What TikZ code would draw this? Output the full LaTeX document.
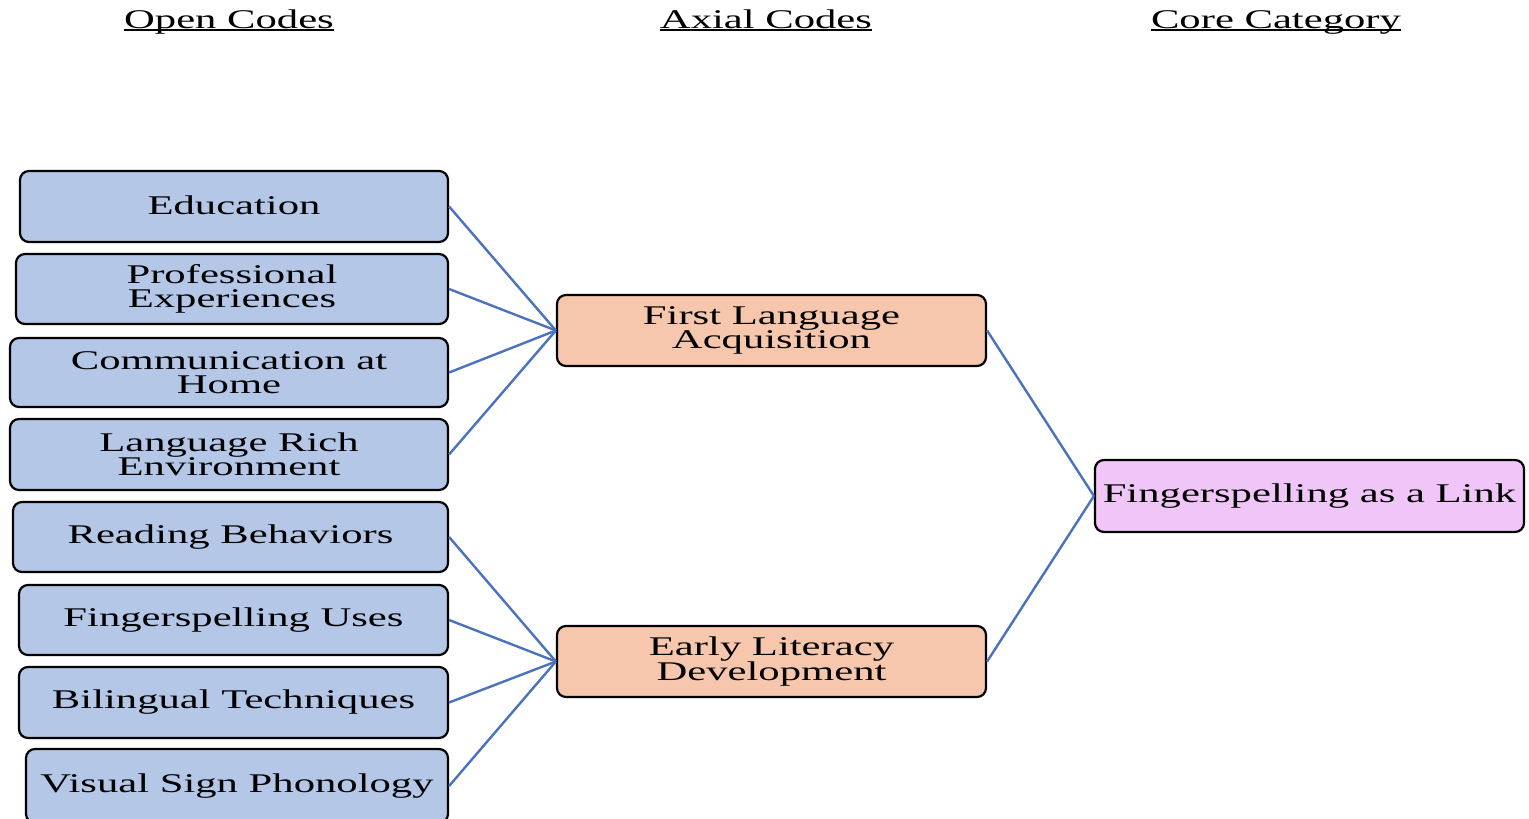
\documentclass[tikz,border=0pt]{standalone}
\usepackage{fontspec}
\setmainfont[FakeStretch=1.58]{Liberation Serif}
\begin{document}
\begin{tikzpicture}[x=1pt,y=-1pt,
  box/.style={draw=black,line width=2.2pt,rounded corners=9pt,align=center,inner sep=0pt,
    font=\fontsize{27}{24}\selectfont},
  openbox/.style={box,fill=openfill},
  axbox/.style={box,fill=axfill},
  corebox/.style={box,fill=corefill},
  heading/.style={inner sep=0pt,anchor=base,font=\fontsize{27}{24}\selectfont},
  link/.style={draw=linkblue,line width=2.4pt}]
\definecolor{openfill}{HTML}{B4C7E7}
\definecolor{axfill}{HTML}{F6C7AC}
\definecolor{corefill}{HTML}{F0C6F8}
\definecolor{linkblue}{HTML}{4A72BE}
\path[use as bounding box] (0,0) rectangle (1529,819);
\clip (0,0) rectangle (1529,819);
% headings
\node[heading] (h1) at (229,28) {Open Codes};
\node[heading] (h2) at (766,28) {Axial Codes};
\node[heading] (h3) at (1276,28) {Core Category};
\foreach \h in {h1,h2,h3}
  \draw[line width=1.5pt] ([yshift=-2pt]\h.base west) -- ([yshift=-2pt]\h.base east);
% open codes
\node[openbox,minimum width=428pt,minimum height=71pt] (o1) at (234,206.5) {\raisebox{3pt}{Education}};
\node[openbox,minimum width=432pt,minimum height=70pt] (o2) at (232,289) {Professional\\Experiences};
\node[openbox,minimum width=438pt,minimum height=69pt] (o3) at (229,372.5) {Communication at\\Home};
\node[openbox,minimum width=438pt,minimum height=71pt] (o4) at (229,454.5) {Language Rich\\Environment};
\node[openbox,minimum width=435pt,minimum height=70pt] (o5) at (230.5,537) {\raisebox{2pt}{Reading Behaviors}};
\node[openbox,minimum width=429pt,minimum height=70pt] (o6) at (233.5,620) {\raisebox{2pt}{Fingerspelling Uses}};
\node[openbox,minimum width=429pt,minimum height=71pt] (o7) at (233.5,702.5) {\raisebox{2pt}{Bilingual Techniques}};
\node[openbox,minimum width=422pt,minimum height=74pt] (o8) at (237,786) {\raisebox{4pt}{Visual Sign Phonology}};
% axial codes
\node[axbox,minimum width=429pt,minimum height=71pt] (a1) at (771.5,330.5) {First Language\\Acquisition};
\node[axbox,minimum width=429pt,minimum height=71pt] (a2) at (771.5,661.5) {Early Literacy\\Development};
% core
\node[corebox,minimum width=429pt,minimum height=72pt] (c) at (1309.5,496) {\raisebox{2pt}{Fingerspelling as a Link}};
% links
\foreach \o in {o1,o2,o3,o4} \draw[link] (\o.east) -- (a1.west);
\foreach \o in {o5,o6,o7,o8} \draw[link] (\o.east) -- (a2.west);
\draw[link] (a1.east) -- (c.west);
\draw[link] (a2.east) -- (c.west);
\end{tikzpicture}
\end{document}
